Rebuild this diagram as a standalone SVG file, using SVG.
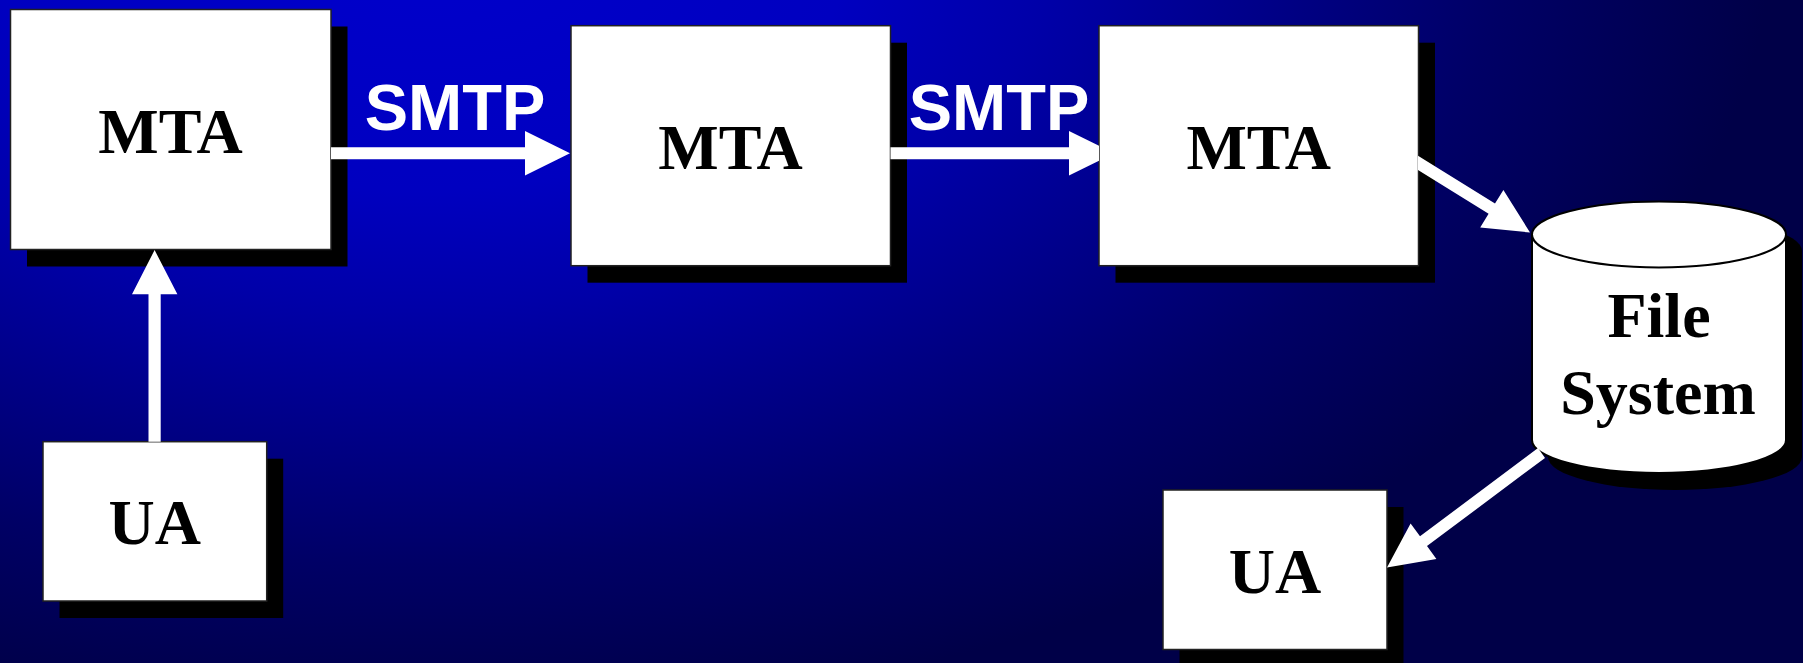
<svg xmlns="http://www.w3.org/2000/svg" width="1803" height="663" viewBox="0 0 1803 663">
  <defs>
    <radialGradient id="bg" gradientUnits="userSpaceOnUse" cx="0" cy="0" r="1" gradientTransform="translate(420,-60) scale(1350,780)">
      <stop offset="0" stop-color="#0000cc"/>
      <stop offset="0.32" stop-color="#0000c0"/>
      <stop offset="0.47" stop-color="#0000a8"/>
      <stop offset="0.8" stop-color="#000066"/>
      <stop offset="1" stop-color="#000048"/>
    </radialGradient>
    <style>
      .box { fill: #ffffff; stroke: #222222; stroke-width: 1.5; }
      .shadow { fill: #000000; }
      .lbl { font-family: "Liberation Serif", "Times New Roman", serif; font-weight: bold; font-size: 64px; fill: #000000; text-anchor: middle; }
      .proto { font-family: "Liberation Sans", Arial, sans-serif; font-weight: bold; font-size: 65px; fill: #ffffff; text-anchor: middle; }
      .arrow { fill: #ffffff; }
      .cyl { fill: #ffffff; stroke: #000000; stroke-width: 2; }
    </style>
  </defs>

  <rect x="0" y="0" width="1803" height="663" fill="url(#bg)"/>

  <g id="mta1">
    <rect class="shadow" x="27" y="26.5" width="320.5" height="240"/>
    <rect class="box" x="10.5" y="9.5" width="320.5" height="240"/>
    <text class="lbl" x="170.5" y="152.7">MTA</text>
  </g>

  <g id="mta2">
    <rect class="shadow" x="587.5" y="42.7" width="319.5" height="240"/>
    <rect class="box" x="571" y="25.7" width="319.5" height="240"/>
    <text class="lbl" x="730.5" y="169">MTA</text>
  </g>

  <g id="mta3">
    <rect class="shadow" x="1115.5" y="42.7" width="319.5" height="240"/>
    <rect class="box" x="1099" y="25.7" width="319.5" height="240"/>
    <text class="lbl" x="1258.7" y="169">MTA</text>
  </g>

  <g id="ua1">
    <rect class="shadow" x="59.5" y="458.7" width="223.7" height="159.3"/>
    <rect class="box" x="43" y="441.7" width="223.7" height="159.3"/>
    <text class="lbl" x="154.8" y="544.3">UA</text>
  </g>

  <g id="ua2">
    <rect class="shadow" x="1179.5" y="507" width="224" height="159.5"/>
    <rect class="box" x="1163" y="490" width="224" height="159.5"/>
    <text class="lbl" x="1275" y="592.7">UA</text>
  </g>

  <g id="filesystem">
    <path class="shadow" d="M1548,251 A127,33 0 0 1 1802,251 V457 A127,33 0 0 1 1548,457 Z"/>
    <path class="cyl" d="M1532,234 V440 A127,33 0 0 0 1786,440 V234"/>
    <ellipse class="cyl" cx="1659" cy="234.5" rx="127" ry="33"/>
    <text class="lbl" x="1659" y="337">File</text>
    <text class="lbl" x="1658" y="414">System</text>
  </g>

  <g id="connectors">
    <polygon class="arrow" points="331,147.3 525,147.3 525,131 570,153.3 525,175.6 525,159.3 331,159.3"/>
    <text class="proto" x="455" y="130">SMTP</text>
    <polygon class="arrow" points="890.5,147.3 1069,147.3 1069,131 1099,145.8 1099,160.8 1069,175.6 1069,159.3 890.5,159.3"/>
    <text class="proto" x="999" y="130">SMTP</text>
    <polygon class="arrow" points="148.5,441.7 148.5,294.3 132,294.3 154.6,250 177.4,294.3 160.7,294.3 160.7,441.7"/>
    <polygon class="arrow" points="1418,155.8 1495,203.6 1503.4,190 1530,232.5 1480.2,227.4 1488.6,213.8 1418,170"/>
    <polygon class="arrow" points="1538,448.1 1420,536.3 1410.6,523.4 1387,567.5 1436.4,559 1427,546.1 1545,457.9"/>
  </g>
</svg>
